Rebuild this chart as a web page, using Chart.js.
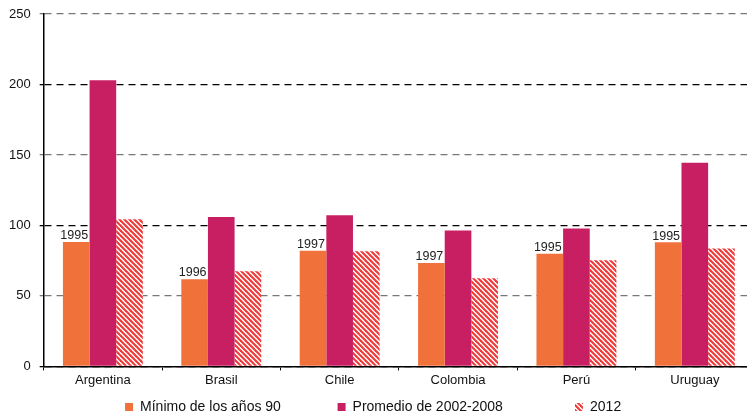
<!DOCTYPE html>
<html>
<head>
<meta charset="utf-8">
<script src="https://cdn.jsdelivr.net/npm/chart.js@4"></script>
<style>
  body { margin: 0; overflow: hidden; background: #fff; }
  #wrap { width: 758px; height: 424px; }
</style>
</head>
<body>
<div id="wrap"><canvas id="myChart"></canvas></div>
<script>
const categories = ["Argentina", "Brasil", "Chile", "Colombia", "Perú", "Uruguay"];
const minimo90 = [88.3, 61.8, 82, 73.4, 80, 88];
const promedio = [203, 106, 107.2, 96.4, 97.8, 144.4];
const valores2012 = [104.4, 67.5, 81.7, 62.5, 75.3, 83.7];
const yearLabels = ["1995", "1996", "1997", "1997", "1995", "1995"];
const seriesNames = ["Mínimo de los años 90", "Promedio de 2002-2008", "2012"];
// extra spaces after each legend text, to spread the items like the original
const legendGaps = [12, 16, 2];

const FONT = "'Liberation Sans', Arial, sans-serif";

const makeHatch = () => {
  const s = 5;
  const c = document.createElement("canvas");
  c.width = s;
  c.height = s;
  const g = c.getContext("2d");
  g.fillStyle = "#fff";
  g.fillRect(0, 0, s, s);
  g.strokeStyle = "#ef3a3a";
  g.lineWidth = 2.1;
  for (let k = -s; k <= s; k += s) {
    g.beginPath();
    g.moveTo(k - 1, -1);
    g.lineTo(k + s + 1, s + 1);
    g.stroke();
  }
  return g.createPattern(c, "repeat");
};

const yearPlugin = {
  id: "years",
  afterDatasetsDraw(chart) {
    const ctx = chart.ctx;
    const meta = chart.getDatasetMeta(0);
    ctx.save();
    ctx.font = "12.5px " + FONT;
    ctx.fillStyle = "#222";
    ctx.textAlign = "center";
    ctx.textBaseline = "bottom";
    meta.data.forEach((bar, i) => {
      ctx.fillText(yearLabels[i], bar.x - 2, bar.y);
    });
    ctx.restore();
  },
};

const ctx = document.getElementById("myChart").getContext("2d");
const myChart = new Chart(ctx, {
  type: "bar",
  data: {
    labels: categories,
    datasets: [
      { label: seriesNames[0], data: minimo90, backgroundColor: "#f1713b" },
      { label: seriesNames[1], data: promedio, backgroundColor: "#c81f62" },
      { label: seriesNames[2], data: valores2012, backgroundColor: makeHatch() },
    ],
  },
  options: {
    responsive: true,
    maintainAspectRatio: false,
    animation: false,
    layout: { padding: { top: 14, right: 4, left: 0, bottom: 0 } },
    datasets: { bar: { categoryPercentage: 0.675, barPercentage: 1 } },
    plugins: {
      tooltip: { enabled: false },
      legend: {
        position: "bottom",
        labels: {
          boxWidth: 8,
          boxHeight: 8,
          padding: 10,
          color: "#111",
          font: { family: FONT, size: 14 },
          generateLabels: (chart) =>
            Chart.defaults.plugins.legend.labels.generateLabels(chart).map((item, i) => {
              item.text = item.text + " ".repeat(legendGaps[i]);
              return item;
            }),
        },
      },
    },
    scales: {
      x: {
        border: { color: "#000", width: 1.5 },
        grid: {
          display: true,
          drawOnChartArea: false,
          drawTicks: true,
          tickLength: 4,
          color: "#000",
        },
        ticks: {
          color: "#111",
          padding: 2,
          font: { family: FONT, size: 13 },
        },
      },
      y: {
        min: 0,
        max: 250,
        afterFit: (scale) => {
          scale.paddingTop = 0;
        },
        border: { color: "#000", width: 1.5, dash: [7, 5] },
        grid: {
          color: (c) => (c.tick && c.tick.value % 100 === 0 ? "#000" : "#777"),
          lineWidth: 1.3,
          tickLength: 4,
          tickBorderDash: [],
        },
        ticks: {
          stepSize: 50,
          color: "#111",
          padding: 9,
          font: { family: FONT, size: 13 },
        },
      },
    },
  },
  plugins: [yearPlugin],
});
</script>
</body>
</html>
